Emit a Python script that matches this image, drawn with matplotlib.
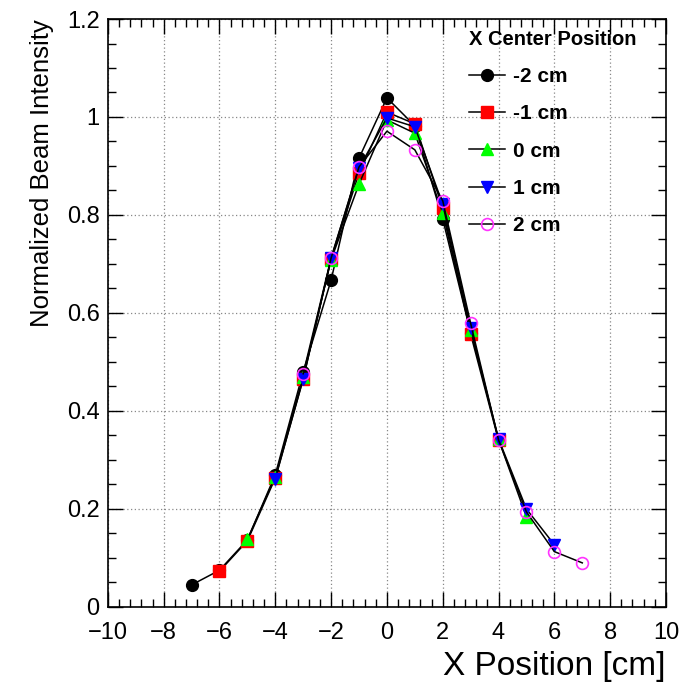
import matplotlib
matplotlib.use("Agg")
import matplotlib.pyplot as plt
from matplotlib.ticker import MultipleLocator

plt.rcParams['font.family'] = ['Liberation Sans', 'DejaVu Sans']

# Beam profile scans for each X centre position
labels = ["-2 cm", "-1 cm", "0 cm", "1 cm", "2 cm"]
x_m2 = [-7, -6, -5, -4, -3, -2, -1, 0, 1, 2, 3]
y_m2 = [0.045, 0.075, 0.137, 0.270, 0.480, 0.667, 0.916, 1.039, 0.982, 0.792, 0.560]
x_m1 = [-6, -5, -4, -3, -2, -1, 0, 1, 2, 3, 4]
y_m1 = [0.073, 0.135, 0.263, 0.466, 0.710, 0.885, 1.010, 0.986, 0.814, 0.557, 0.340]
x_0 = [-5, -4, -3, -2, -1, 0, 1, 2, 3, 4, 5]
y_0 = [0.138, 0.266, 0.470, 0.709, 0.863, 0.994, 0.967, 0.804, 0.565, 0.342, 0.184]
x_p1 = [-4, -3, -2, -1, 0, 1, 2, 3, 4, 5, 6]
y_p1 = [0.262, 0.465, 0.712, 0.896, 0.998, 0.980, 0.822, 0.570, 0.343, 0.200, 0.127]
x_p2 = [-3, -2, -1, 0, 1, 2, 3, 4, 5, 6, 7]
y_p2 = [0.476, 0.712, 0.898, 0.971, 0.933, 0.829, 0.579, 0.341, 0.194, 0.113, 0.090]

xs = [x_m2, x_m1, x_0, x_p1, x_p2]
ys = [y_m2, y_m1, y_0, y_p1, y_p2]
markers = ["o", "s", "^", "v", "o"]
colors = ["black", "red", "#00ff00", "blue", "#ff33ff"]
filled = [True, True, True, True, False]

fig = plt.figure(figsize=(6.87, 6.86), dpi=100)
ax = fig.add_axes([0.157, 0.1152, 0.8124, 0.8571])

for x, y, m, c, f, lab in zip(xs, ys, markers, colors, filled, labels):
    ax.plot(x, y, color="black", lw=1.1, marker=m, markersize=8.5,
            markerfacecolor=c if f else "none", markeredgecolor=c,
            markeredgewidth=1.0 if f else 1.2, label=lab)

ax.set_xlim(-10, 10)
ax.set_ylim(0, 1.2)
ax.xaxis.set_minor_locator(MultipleLocator(0.4))
ax.yaxis.set_minor_locator(MultipleLocator(0.05))
ax.set_yticks([0, 0.2, 0.4, 0.6, 0.8, 1.0, 1.2])
ax.set_yticklabels(["0", "0.2", "0.4", "0.6", "0.8", "1", "1.2"])
ax.set_xticks(range(-10, 11, 2))
ax.set_xticklabels(["\u221210", "\u22128", "\u22126", "\u22124", "\u22122", "0",
                    "2", "4", "6", "8", "10"])

ax.tick_params(which="both", direction="in", top=True, right=True,
               labelsize=17, width=1.0, colors="black")
ax.tick_params(which="major", length=11)
ax.tick_params(axis="x", which="major", pad=11)
ax.tick_params(axis="y", which="major", pad=6)
ax.tick_params(which="minor", length=6)
for s in ax.spines.values():
    s.set_linewidth(1.2)

ax.grid(True, which="major", color="#888888", linestyle=(0, (1, 2)), lw=0.9)
ax.set_axisbelow(True)

ax.set_xlabel("X Position [cm]", fontsize=24, loc="right", labelpad=5)
ax.set_ylabel("Normalized Beam Intensity", fontsize=18.5, loc="top", labelpad=9)

leg = ax.legend(title="X Center Position", loc="upper left",
                bbox_to_anchor=(0.647, 0.982), frameon=False,
                prop={"weight": "bold", "size": 15}, labelspacing=0.88,
                handlelength=1.75, handletextpad=0.35, borderaxespad=0,
                borderpad=0)
leg.get_title().set_fontweight("bold")
leg.get_title().set_fontsize(14.5)
leg._legend_box.align = "left"

fig.savefig("out.png", dpi=100, facecolor="white")
